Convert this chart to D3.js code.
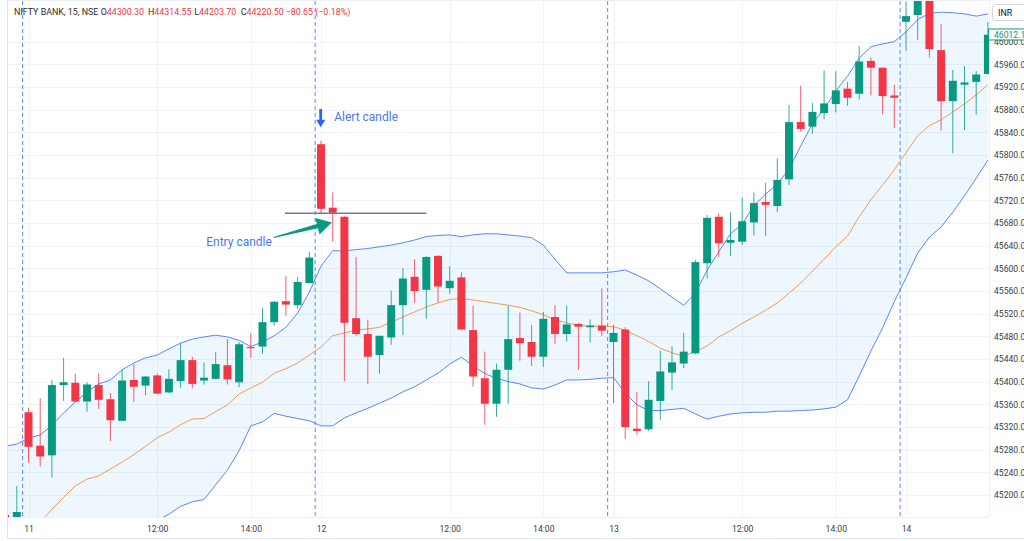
<!DOCTYPE html>
<html><head><meta charset="utf-8">
<script src="https://cdn.jsdelivr.net/npm/d3@7"></script>
<style>html,body{margin:0;padding:0;background:#fff;} svg{display:block;font-family:Roboto,"Noto Sans",sans-serif;}</style>
</head><body><svg id="chart" width="1024" height="541"></svg>
<script>
// ---------- categories (15-minute candles) ----------
const sessionSlots = [];
for (let m = 9 * 60 + 15; m <= 15 * 60 + 15; m += 15) {
  sessionSlots.push(String(Math.floor(m / 60)).padStart(2, "0") + ":" + String(m % 60).padStart(2, "0"));
}
const candleTimes = ["10 15:00", "10 15:15"]
  .concat(sessionSlots.map(s => "11 " + s))
  .concat(sessionSlots.map(s => "12 " + s))
  .concat(sessionSlots.map(s => "13 " + s))
  .concat(sessionSlots.slice(0, 8).map(s => "14 " + s));

// ---------- series values ----------
const open = [45165,45140,45346,45287,45270,45394,45398,45365,45394,45369,45331,45403,45393,45411,45381,45401,45438,45402,45405,45429,45399,45461,45462,45505,45542,45535,45574,
  45819,45707,45691,45512,45484,45447,45478,45535,45585,45562,45622,45565,45584,45491,45406,45361,45421,45477,45470,45444,45514,45484,45502,45496,45499,45470,45492,45317,45316,45366,45416,45432,45450,45609,45691,45645,45647,45681,45717,45710,45757,45858,45850,45874,45890,45917,45908,45966,45954,45905,46035,46047,46085,45985,45895,45924,45929,45943];
const high = [45168,45216,45354,45371,45403,45442,45414,45399,45415,45380,45421,45431,45410,45414,45422,45468,45444,45434,45452,45475,45470,45486,45530,45542,45587,45585,45629,
  45825,45734,45692,45620,45509,45481,45561,45600,45616,45622,45623,45604,45593,45534,45453,45432,45534,45522,45500,45523,45535,45534,45503,45510,45565,45500,45496,45382,45401,45455,45462,45486,45615,45694,45697,45699,45725,45734,45751,45794,45888,45922,45892,45949,45948,45929,45992,45972,45954,45924,46071,46100,46100,46031,45950,45957,45948,46035];
const low = [45090,45120,45257,45250,45231,45366,45364,45347,45352,45295,45330,45364,45376,45378,45380,45389,45388,45395,45404,45395,45390,45442,45449,45499,45516,45528,45573,
  45697,45647,45401,45481,45396,45414,45465,45482,45539,45511,45540,45555,45492,45391,45324,45338,45361,45437,45428,45426,45467,45471,45421,45469,45481,45362,45299,45306,45313,45332,45385,45424,45449,45582,45620,45622,45641,45658,45657,45699,45747,45841,45837,45863,45875,45887,45898,45905,45872,45848,45984,46003,45972,45843,45803,45844,45871,45942];
const close = [45110,45170,45285,45268,45394,45399,45365,45395,45368,45332,45402,45391,45409,45379,45405,45438,45396,45407,45431,45404,45466,45459,45505,45541,45536,45576,45619,
  45705,45698,45504,45484,45444,45481,45535,45582,45560,45620,45568,45578,45492,45409,45361,45421,45475,45468,45444,45511,45484,45501,45497,45499,45490,45486,45320,45313,45368,45418,45434,45453,45611,45689,45644,45650,45683,45715,45712,45756,45858,45846,45876,45891,45914,45901,45965,45954,45904,45901,46045,46085,45987,45895,45931,45928,45942,46012.1];

// Bollinger Bands (20, 2)
const bbUpper = [45286,45290,45300,45306,45323,45345,45364,45382,45396,45403,45421,45433,45442,45447,45458,45468,45475,45479,45482,45479,45473,45462,45470,45481,45496,45521,45558,
  45604,45631,45631,45633,45635,45638,45641,45645,45650,45656,45658,45659,45656,45659,45661,45661,45659,45657,45654,45641,45616,45592,45592,45592,45592,45594,45597,45588,45578,45564,45549,45535,45556,45597,45629,45661,45678,45711,45731,45749,45775,45816,45855,45881,45913,45939,45971,45991,45996,46000,46017,46039,46050,46052,46051,46049,46045,46049];
const bbBasis = [45085,45106,45129,45152,45175,45196,45216,45228,45234,45246,45258,45271,45286,45301,45311,45324,45334,45335,45347,45359,45378,45389,45399,45415,45423,45433,45447,
  45461,45481,45486,45491,45493,45496,45505,45514,45523,45532,45539,45545,45547,45544,45541,45538,45535,45531,45525,45518,45509,45504,45499,45498,45498,45497,45491,45481,45471,45459,45451,45445,45453,45463,45479,45490,45503,45514,45526,45539,45556,45574,45595,45616,45638,45657,45691,45721,45747,45774,45804,45834,45852,45862,45876,45890,45906,45924];
const bbLower = [44884,44922,44958,44998,45027,45047,45060,45070,45078,45089,45095,45109,45130,45155,45166,45180,45188,45192,45218,45244,45278,45322,45329,45344,45339,45335,45331,
  45322,45322,45336,45345,45353,45362,45371,45382,45391,45403,45415,45431,45443,45428,45414,45406,45400,45396,45389,45387,45394,45403,45403,45404,45406,45407,45380,45359,45349,45349,45351,45353,45343,45334,45339,45343,45345,45346,45346,45348,45348,45349,45350,45352,45355,45368,45410,45454,45495,45541,45583,45627,45655,45673,45699,45728,45759,45791];

// ---------- tick labels ----------
const priceTicks = d3.range(45200, 46001, 40);
const xTickTimes = ["11 09:15","11 12:00","11 14:00","12 09:15","12 12:00","12 14:00","13 09:15","13 12:00","13 14:00","14 09:15"];
const xTickLabels = ["11","12:00","14:00","12","12:00","14:00","13","12:00","14:00","14"];
const sessionStarts = ["11 09:15","12 09:15","13 09:15","14 09:15"];

// ---------- header / annotation texts ----------
const headerTitle = "NIFTY BANK, 15, NSE";
const headerKeys = ["O","H","L","C"];
const headerValues = ["44300.30","44314.55","44203.70","44220.50"];
const headerChange = "\u221280.65 (\u22120.18%)";
const lastPrice = 46012.1;
const alertTime = "12 09:15", alertArrowTop = 45881, alertArrowBottom = 45849;
const entryTipTime = "12 09:30", entryTipPrice = 45681;
const levelPrice = 45697, levelFrom = "11 14:45", levelTo = "12 11:30";

// ---------- layout ----------
const P = {left: 8, right: 989, top: 1, bottom: 517};
const GREEN = "#089981", RED = "#f23645";
const svg = d3.select("#chart");
svg.append("rect").attr("width", 1024).attr("height", 541).attr("fill", "#fff");

const x = d3.scalePoint().domain(candleTimes).range([-0.75, 993.75]).padding(0.5);
const y = d3.scaleLinear().domain([45161.2, 46071.7]).range([P.bottom, P.top]);
const step = x.step();

svg.append("defs").append("clipPath").attr("id", "plotclip")
  .append("rect").attr("x", P.left).attr("y", P.top).attr("width", P.right - P.left).attr("height", P.bottom - P.top);

// grid
const grid = svg.append("g");
grid.selectAll("line.h").data(priceTicks).join("line")
  .attr("x1", P.left).attr("x2", P.right)
  .attr("y1", d => Math.round(y(d)) + 0.5).attr("y2", d => Math.round(y(d)) + 0.5)
  .attr("stroke", "#f0f3fa").attr("stroke-width", 1);
grid.selectAll("line.v").data(xTickTimes).join("line")
  .attr("x1", d => Math.round(x(d)) + 0.5).attr("x2", d => Math.round(x(d)) + 0.5)
  .attr("y1", P.top).attr("y2", P.bottom)
  .attr("stroke", "#f0f3fa").attr("stroke-width", 1);

const plot = svg.append("g").attr("clip-path", "url(#plotclip)");
const rows = candleTimes.map((t, i) => ({t, o: open[i], h: high[i], l: low[i], c: close[i], up: bbUpper[i], mid: bbBasis[i], lo: bbLower[i]}));

// band fill
plot.append("path").datum(rows)
  .attr("d", d3.area().x(d => x(d.t)).y0(d => y(d.lo)).y1(d => y(d.up)))
  .attr("fill", "rgba(33,150,243,0.075)");

// session breaks
plot.selectAll("line.sb").data(sessionStarts).join("line")
  .attr("x1", d => x(d) - step / 2).attr("x2", d => x(d) - step / 2)
  .attr("y1", P.top).attr("y2", P.bottom)
  .attr("stroke", "#5b87f5").attr("stroke-width", 1).attr("stroke-dasharray", "4,3");

// band lines
const line = key => d3.line().x(d => x(d.t)).y(d => y(d[key]));
plot.append("path").datum(rows).attr("d", line("up")).attr("fill", "none").attr("stroke", "#5b87f5").attr("stroke-width", 1);
plot.append("path").datum(rows).attr("d", line("lo")).attr("fill", "none").attr("stroke", "#5b87f5").attr("stroke-width", 1);
plot.append("path").datum(rows).attr("d", line("mid")).attr("fill", "none").attr("stroke", "#f59a52").attr("stroke-width", 1);

// candles
const bw = step * 0.68;
const cg = plot.selectAll("g.candle").data(rows).join("g");
cg.append("line")
  .attr("x1", d => x(d.t)).attr("x2", d => x(d.t))
  .attr("y1", d => y(d.h)).attr("y2", d => y(d.l))
  .attr("stroke", d => d.c >= d.o ? GREEN : RED).attr("stroke-width", 1).attr("stroke-opacity", 0.8);
cg.append("rect")
  .attr("x", d => x(d.t) - bw / 2).attr("width", bw)
  .attr("y", d => y(Math.max(d.o, d.c)))
  .attr("height", d => Math.max(1, Math.abs(y(d.o) - y(d.c))))
  .attr("fill", d => d.c >= d.o ? GREEN : RED);

// ---------- annotations ----------
// level line at alert-candle low
svg.append("line")
  .attr("x1", x(levelFrom) - 1).attr("x2", x(levelTo))
  .attr("y1", y(levelPrice)).attr("y2", y(levelPrice))
  .attr("stroke", "#787b86").attr("stroke-width", 1.5);

// alert arrow (down)
const ax = x(alertTime) - 0.3, ayT = y(alertArrowTop), ayB = y(alertArrowBottom);
const headH = 7.5;
svg.append("path")
  .attr("d", `M${ax - 1.4},${ayT} L${ax + 1.4},${ayT} L${ax + 1.4},${ayB - headH} L${ax + 4.5},${ayB - headH} L${ax},${ayB} L${ax - 4.5},${ayB - headH} L${ax - 1.4},${ayB - headH} Z`)
  .attr("fill", "#2962ff");
svg.append("text").attr("x", ax + 13.5).attr("y", ayT + 11.5)
  .attr("font-size", 12).attr("fill", "#4a78f2").text("Alert candle");

// entry arrow (tapered)
const tip = [x(entryTipTime) - 0.8, y(entryTipPrice)];
const tail = [tip[0] - 58.5, tip[1] + 15];
const dx = tip[0] - tail[0], dy = tip[1] - tail[1], L = Math.hypot(dx, dy);
const ux = dx / L, uy = dy / L, nx = -uy, ny = ux;
const hl = 15, hw = 8.5, sw = 2.2;
const hb = [tip[0] - ux * hl, tip[1] - uy * hl];
const pts = [
  [tail[0] + nx * 0.5, tail[1] + ny * 0.5],
  [hb[0] + nx * sw, hb[1] + ny * sw],
  [hb[0] + nx * hw, hb[1] + ny * hw],
  tip,
  [hb[0] - nx * hw, hb[1] - ny * hw],
  [hb[0] - nx * sw, hb[1] - ny * sw],
  [tail[0] - nx * 0.5, tail[1] - ny * 0.5]
];
svg.append("path").attr("d", "M" + pts.map(p => p.join(",")).join("L") + "Z").attr("fill", GREEN);
svg.append("text").attr("x", tail[0] - 1.5).attr("y", tail[1] + 9).attr("text-anchor", "end")
  .attr("font-size", 12).attr("fill", "#4a78f2").text("Entry candle");

// ---------- frame ----------
svg.append("line").attr("x1", P.left - 0.5).attr("x2", P.left - 0.5).attr("y1", 0).attr("y2", 539).attr("stroke", "#e0e3eb");
svg.append("line").attr("x1", P.left).attr("x2", 1024).attr("y1", 538.5).attr("y2", 538.5).attr("stroke", "#e0e3eb");
svg.append("line").attr("x1", P.left).attr("x2", P.right).attr("y1", P.bottom + 0.5).attr("y2", P.bottom + 0.5).attr("stroke", "#eef0f4");
svg.append("line").attr("x1", P.right + 0.5).attr("x2", P.right + 0.5).attr("y1", 0).attr("y2", P.bottom).attr("stroke", "#eef0f4");
svg.append("line").attr("x1", P.left).attr("x2", P.right).attr("y1", 0.5).attr("y2", 0.5).attr("stroke", "#eef0f4");

// ---------- axes ----------
const yAxis = svg.append("g").attr("transform", `translate(${P.right},0)`)
  .call(d3.axisRight(y).tickValues(priceTicks).tickSize(0).tickPadding(5).tickFormat(d3.format(".1f")));
yAxis.select(".domain").remove();
yAxis.selectAll("text").attr("font-size", 8.6).attr("fill", "#3b3e47").attr("font-family", "Roboto, sans-serif");

const xAxis = svg.append("g").attr("transform", `translate(0,${P.bottom})`)
  .call(d3.axisBottom(x).tickValues(xTickTimes).tickSize(0).tickPadding(8.5).tickFormat((d, i) => xTickLabels[i]));
xAxis.select(".domain").remove();
xAxis.selectAll("text").attr("font-size", 8.6).attr("fill", "#3b3e47").attr("font-family", "Roboto, sans-serif");

// last price label
const ly = y(lastPrice);
svg.append("rect").attr("x", P.right - 0.5).attr("y", ly - 5.8).attr("width", 40).attr("height", 11)
  .attr("fill", "#fff").attr("stroke", GREEN).attr("stroke-width", 1);
svg.append("text").attr("x", P.right + 5).attr("y", ly).attr("dy", "0.34em")
  .attr("font-size", 8.6).attr("fill", GREEN).text(d3.format(".1f")(lastPrice));

// currency box
svg.append("rect").attr("x", 992.5).attr("y", 4.5).attr("width", 40).attr("height", 16).attr("rx", 3)
  .attr("fill", "#fff").attr("stroke", "#d1d4dc");
svg.append("text").attr("x", 998).attr("y", 15.8).attr("font-size", 8.8).attr("fill", "#131722").text("INR");

// header
const hdr = svg.append("g").attr("font-size", 8.9);
hdr.append("text").attr("x", 14).attr("y", 15.3).attr("fill", "#2a2e39").text(headerTitle);
const keyX = [100.7, 148, 194.3, 240.7];
headerKeys.forEach((k, i) => {
  const t = hdr.append("text").attr("x", keyX[i]).attr("y", 15.3);
  t.append("tspan").attr("fill", "#2a2e39").text(k);
  t.append("tspan").attr("fill", RED).text(headerValues[i]);
});
hdr.append("text").attr("x", 285.7).attr("y", 15.3).attr("fill", RED).text(headerChange);
</script>
</body></html>
